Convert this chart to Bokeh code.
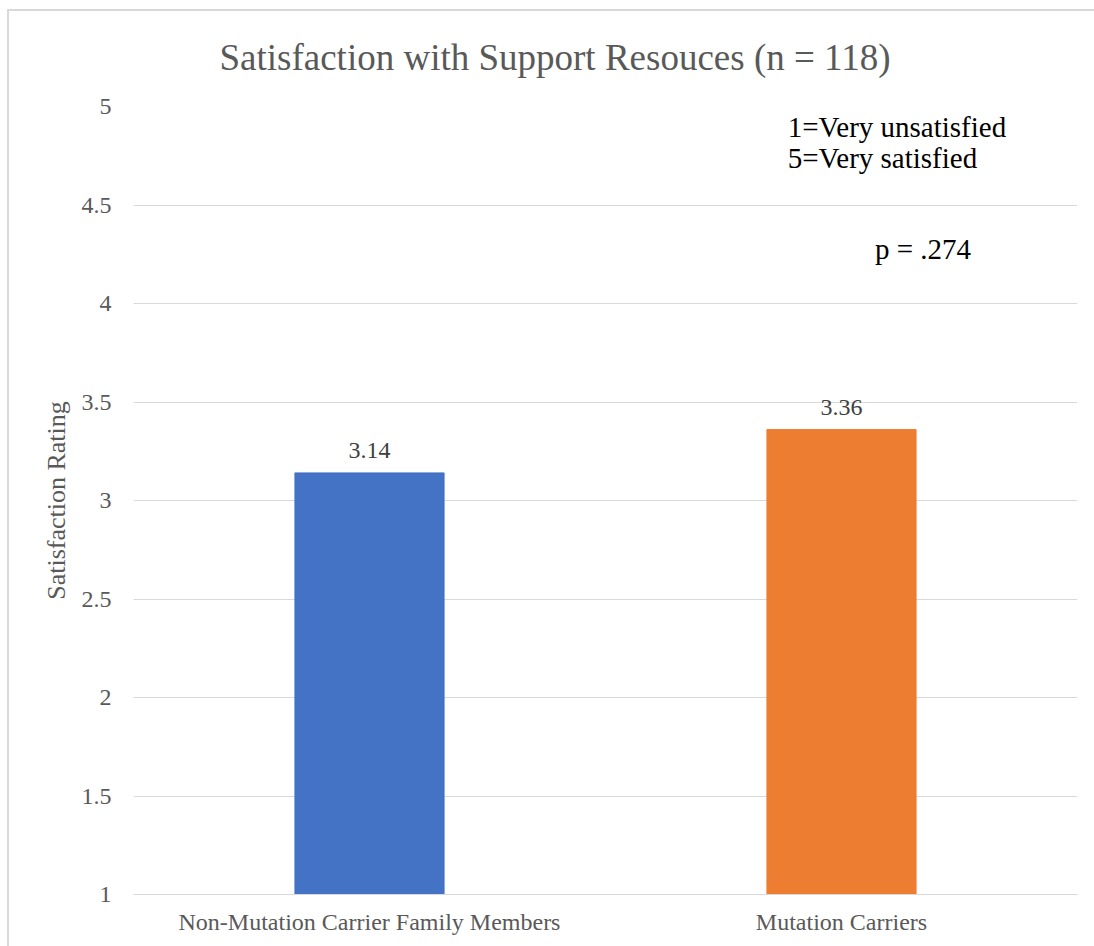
from bokeh.plotting import figure
from bokeh.models import (FactorRange, Range1d, ColumnDataSource, LabelSet, FixedTicker)
from bokeh.embed import file_html
from bokeh.resources import INLINE
from bokeh.core.properties import value

# ---- data ----
categories = ["Non-Mutation Carrier Family Members", "Mutation Carriers"]
ratings = [3.14, 3.36]
rating_labels = ["3.14", "3.36"]
bar_colors = ["#4472C4", "#ED7D31"]
y_ticks = [1, 1.5, 2, 2.5, 3, 3.5, 4, 4.5, 5]
y_tick_labels = ["1", "1.5", "2", "2.5", "3", "3.5", "4", "4.5", "5"]
title_text = "Satisfaction with Support Resouces (n = 118)"
y_title = "Satisfaction Rating"
note_texts = ["1=Very unsatisfied", "5=Very satisfied", "p = .274"]
note_x = [1.386, 1.386, 1.571]      # position of the notes along the category axis
note_y = [4.843, 4.688, 4.224]      # baseline of the notes on the rating axis

FONT = "Liberation Serif"
GRAY = "#595959"

p = figure(x_range=FactorRange(factors=categories), y_range=Range1d(1, 5),
           width=1094, height=946, output_backend="svg", toolbar_location=None,
           min_border_left=133, min_border_right=17, min_border_top=106,
           min_border_bottom=52)
p.outline_line_color = None
p.background_fill_color = "white"
p.border_fill_color = None
# outer chart border (left and top edges visible in the reference)
p.styles = {
    "background-color": "white",
    "background-image": "linear-gradient(#D9D9D9, #D9D9D9), linear-gradient(#D9D9D9, #D9D9D9)",
    "background-size": "2px 2000px, 2000px 2px",
    "background-position": "7px 9px, 7px 9px",
    "background-repeat": "no-repeat",
}

src = ColumnDataSource(dict(cat=categories, val=ratings, lab=rating_labels, col=bar_colors))
p.vbar(x="cat", top="val", bottom=1, width=0.316, color="col", source=src)

p.add_layout(LabelSet(x="cat", y="val", text="lab", source=src, text_align="center",
                      text_baseline="alphabetic", y_offset=15,
                      text_font=value(FONT), text_font_size="24px", text_color="#404040"))

notes = ColumnDataSource(dict(x=note_x, y=note_y, t=note_texts))
p.add_layout(LabelSet(x="x", y="y", text="t", source=notes, text_align="left",
                      text_baseline="alphabetic", text_font=value(FONT),
                      text_font_size="29px", text_color="black"))

# title
p.title.text = title_text
p.title.align = "left"
p.title.offset = 86
p.title.standoff = 57
p.title.text_font = FONT
p.title.text_font_size = "37px"
p.title.text_font_style = "normal"
p.title.text_color = GRAY

# axes
p.xgrid.grid_line_color = None
p.ygrid.grid_line_color = "#D9D9D9"
p.ygrid.grid_line_width = 1
p.yaxis.ticker = FixedTicker(ticks=y_ticks)
p.yaxis.major_label_overrides = {t: l for t, l in zip(y_ticks, y_tick_labels)}
p.yaxis.axis_line_color = None
p.yaxis.major_tick_line_color = None
p.yaxis.minor_tick_line_color = None
p.yaxis.major_tick_out = 0
p.yaxis.major_label_standoff = 22
p.yaxis.major_label_text_font = FONT
p.yaxis.major_label_text_font_size = "24px"
p.yaxis.major_label_text_color = GRAY
p.yaxis.axis_label = y_title
p.yaxis.axis_label_text_font = FONT
p.yaxis.axis_label_text_font_size = "26px"
p.yaxis.axis_label_text_font_style = "normal"
p.yaxis.axis_label_text_color = GRAY
p.yaxis.axis_label_standoff = 8

p.xaxis.axis_line_color = "#D9D9D9"
p.xaxis.major_tick_line_color = None
p.xaxis.minor_tick_line_color = None
p.xaxis.major_tick_out = 0
p.xaxis.major_label_standoff = 14
p.xaxis.major_label_text_font = FONT
p.xaxis.major_label_text_font_size = "24px"
p.xaxis.major_label_text_color = GRAY

open("out.html", "w").write(file_html(p, INLINE))
